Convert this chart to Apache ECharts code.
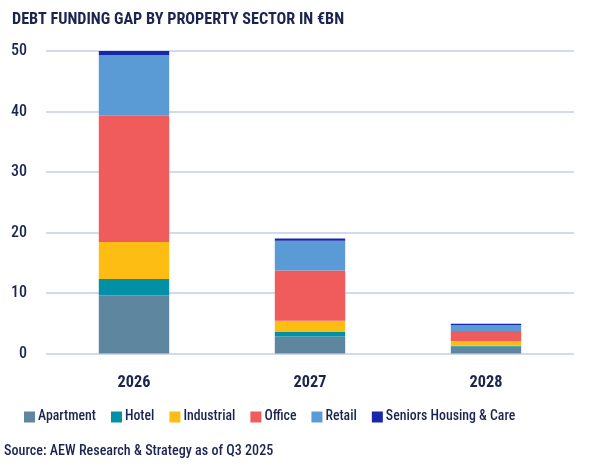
<!DOCTYPE html>
<html><head><meta charset="utf-8">
<script src="https://cdn.jsdelivr.net/npm/echarts@6/dist/echarts.min.js"></script>
<style>html,body{margin:0;padding:0;background:#fff}#c{width:601px;height:470px}</style>
</head><body><div id="c"></div>
<script>
const categories = ['2026', '2027', '2028'];
const apartment  = [9.6, 2.8, 1.15];
const hotel      = [2.7, 0.75, 0.15];
const industrial = [6.15, 1.85, 0.75];
const office     = [20.85, 8.3, 1.65];
const retail     = [10.0, 4.95, 1.0];
const seniors    = [0.7, 0.35, 0.2];
const yTicks = [0, 10, 20, 30, 40, 50];

const FONT = '"Roboto Condensed", Roboto, sans-serif';
const TXT = '#1B2550';
const names = ['Apartment','Hotel','Industrial','Office','Retail','Seniors Housing & Care'];
const colors = ['#5E879F','#0190A6','#FDBD12','#F05B5C','#5B9BD5','#1428A8'];
const datas = [apartment, hotel, industrial, office, retail, seniors];

const cv = document.createElement('canvas').getContext('2d');
function fit(text, weight, target, base) {
  cv.font = weight + ' ' + base + 'px ' + FONT;
  const wd = cv.measureText(text).width;
  return Math.round(base * target / wd * 10) / 10;
}
const TITLE = 'DEBT FUNDING GAP BY PROPERTY SECTOR IN €BN';
const SOURCE = 'Source: AEW Research & Strategy as of Q3 2025';
const titleSize = fit(TITLE, 'bold', 333, 18);
const legendSize = fit('Apartment', '500', 58, 16);
const sourceSize = fit(SOURCE, '500', 269, 16);
const xSize = fit('2026', 'bold', 33, 16);
const ySize = fit('50', '500', 16, 16);

const chart = echarts.init(document.getElementById('c'));
chart.setOption({
  animation: false,
  legend: {
    top: 405, left: 19,
    itemWidth: 11, itemHeight: 11, itemGap: 15,
    icon: 'rect',
    textStyle: {fontFamily: FONT, fontSize: legendSize, fontWeight: 500, color: TXT, padding: [0,0,0,-2]},
    data: names
  },
  graphic: [{
    type: 'text', x: 12, y: 19.5,
    style: {text: TITLE, fontFamily: FONT, fontSize: titleSize, fontWeight: 'bold', fill: TXT, verticalAlign: 'middle'}
  }, {
    type: 'text', x: 4, y: 451,
    style: {text: SOURCE, fontFamily: FONT, fontSize: sourceSize, fontWeight: 500, fill: TXT, verticalAlign: 'middle'}
  }],
  grid: {left: 46, right: 27, top: 51, bottom: 116.5, containLabel: false},
  xAxis: {
    type: 'category', data: categories,
    axisLine: {show: false}, axisTick: {show: false},
    axisLabel: {fontFamily: FONT, fontSize: xSize, fontWeight: 'bold', color: TXT, margin: 21}
  },
  yAxis: {
    type: 'value', min: 0, max: 50, interval: 10,
    axisLine: {show: false}, axisTick: {show: false},
    splitLine: {lineStyle: {color: '#D3DAEF', width: 2}},
    axisLabel: {fontFamily: FONT, fontSize: ySize, fontWeight: 500, color: TXT, margin: 19,
      formatter: v => yTicks.includes(v) ? String(v) : ''}
  },
  series: names.map((n, i) => ({
    name: n, type: 'bar', stack: 'total', data: datas[i],
    barWidth: '40%', itemStyle: {color: colors[i]}
  }))
});
</script></body></html>
